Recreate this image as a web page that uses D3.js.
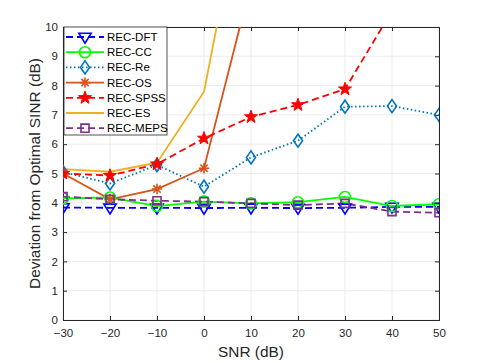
<!DOCTYPE html>
<html><head><meta charset="utf-8">
<script src="https://cdn.jsdelivr.net/npm/d3@7"></script>
<style>body{margin:0;background:#fff}svg{display:block}text{font-family:Helvetica,"Liberation Sans",Arial,sans-serif}</style>
</head><body><svg id="c" width="485" height="363"></svg>
<script>
const snr = [-30,-20,-10,0,10,20,30,40,50];
const xTicks = [-30,-20,-10,0,10,20,30,40,50];
const yTicks = [0,1,2,3,4,5,6,7,8,9,10];
const recDFT  = [3.84,3.83,3.83,3.82,3.83,3.82,3.83,3.86,3.86];
const recCC   = [4.15,4.18,3.89,4.04,3.98,4.02,4.2,3.89,3.95];
const recRe   = [5.05,4.66,5.29,4.55,5.55,6.12,7.28,7.3,7.0];
const recOS   = [5.0,4.12,4.47,5.18,11.5,14,17,20,23];
const recSPSS = [5.0,4.93,5.32,6.2,6.93,7.34,7.88,10.55,13.2];
const recES   = [5.15,5.06,5.37,7.79,16,20,24,28,32];
const recMEPS = [4.21,4.12,4.07,4.04,3.98,3.92,3.98,3.7,3.66];
const seriesNames = ["REC-DFT","REC-CC","REC-Re","REC-OS","REC-SPSS","REC-ES","REC-MEPS"];

const series = [
  {name:seriesNames[0], v:recDFT, color:"#0000FF", dash:"7,4", marker:"tri"},
  {name:seriesNames[1], v:recCC, color:"#00FF00", dash:null, marker:"circle"},
  {name:seriesNames[2], v:recRe, color:"#0072BD", dash:"1.5,2.5", marker:"diamond"},
  {name:seriesNames[3], v:recOS, color:"#D95319", dash:null, marker:"asterisk"},
  {name:seriesNames[4], v:recSPSS, color:"#FF0000", dash:"7,4", marker:"star"},
  {name:seriesNames[5], v:recES, color:"#EDB120", dash:null, marker:null},
  {name:seriesNames[6], v:recMEPS, color:"#7E2F8E", dash:"7,4", marker:"square"}
];

const L=63, R=439, T=27, B=320;
const svg = d3.select("#c");
const x = d3.scaleLinear().domain([-30,50]).range([L,R]);
const y = d3.scaleLinear().domain([0,10]).range([B,T]);

// grid
const g = svg.append("g");
g.selectAll(".gx").data(xTicks).enter().append("line")
 .attr("x1",d=>x(d)).attr("x2",d=>x(d)).attr("y1",T).attr("y2",B)
 .attr("stroke","#ebebeb").attr("stroke-width",1);
g.selectAll(".gy").data(yTicks).enter().append("line")
 .attr("y1",d=>y(d)).attr("y2",d=>y(d)).attr("x1",L).attr("x2",R)
 .attr("stroke","#ebebeb").attr("stroke-width",1);

// axes
const ax = svg.append("g").attr("transform",`translate(0,${B})`)
 .call(d3.axisBottom(x).tickValues(xTicks).tickSize(-4).tickPadding(9).tickFormat(d3.format("d")));
const ay = svg.append("g").attr("transform",`translate(${L},0)`)
 .call(d3.axisLeft(y).tickValues(yTicks).tickSize(-4).tickPadding(5).tickFormat(d3.format("d")));
const axTop = svg.append("g").attr("transform",`translate(0,${T})`)
 .call(d3.axisTop(x).tickValues(xTicks).tickSize(-4).tickFormat(""));
const ayR = svg.append("g").attr("transform",`translate(${R},0)`)
 .call(d3.axisRight(y).tickValues(yTicks).tickSize(-4).tickFormat(""));
[ax,ay,axTop,ayR].forEach(a=>{
  a.select(".domain").attr("stroke","#262626").attr("stroke-width",1);
  a.selectAll(".tick line").attr("stroke","#262626");
  a.selectAll("text").attr("fill","#262626").style("font-size","11.5px");
});

svg.append("defs").append("clipPath").attr("id","clip")
 .append("rect").attr("x",L).attr("y",T).attr("width",R-L).attr("height",B-T);

function markerPath(type, s){
  if(type==="tri"){const h=s*0.95;return `M${-h},${-h*0.6}L${h},${-h*0.6}L0,${h}Z`;}
  if(type==="diamond"){return `M0,${-s}L${s*0.7},0L0,${s}L${-s*0.7},0Z`;}
  if(type==="square"){const h=s*0.62;return `M${-h},${-h}H${h}V${h}H${-h}Z`;}
  if(type==="asterisk"){const h=s*0.8,d=h*0.707;return `M0,${-h}V${h}M${-h},0H${h}M${-d},${-d}L${d},${d}M${-d},${d}L${d},${-d}`;}
  if(type==="star"){let p="";for(let i=0;i<10;i++){const r=i%2?s*0.42:s*1.05;const a=-Math.PI/2+i*Math.PI/5;p+=(i?"L":"M")+(r*Math.cos(a)).toFixed(2)+","+(r*Math.sin(a)).toFixed(2);}return p+"Z";}
  return "";
}
function drawMarker(sel, type, color, cx, cy){
  if(!type) return;
  if(type==="circle"){
    sel.append("circle").attr("cx",cx).attr("cy",cy).attr("r",5.5)
      .attr("fill","none").attr("stroke",color).attr("stroke-width",1.6);
    return;
  }
  const s = 6.5;
  const p = sel.append("path").attr("d",markerPath(type,s)).attr("transform",`translate(${cx},${cy})`);
  if(type==="star") p.attr("fill",color).attr("stroke",color).attr("stroke-width",1);
  else p.attr("fill","none").attr("stroke",color).attr("stroke-width",1.6);
}

const plot = svg.append("g").attr("clip-path","url(#clip)");
const line = d3.line().x((d,i)=>x(snr[i])).y(d=>y(d));
series.forEach(s=>{
  plot.append("path").datum(s.v).attr("d",line).attr("fill","none")
   .attr("stroke",s.color).attr("stroke-width",1.8)
   .attr("stroke-dasharray",s.dash);
});
series.forEach(s=>{
  s.v.forEach((v,i)=>{ if(v<=10.3) drawMarker(plot, s.marker, s.color, x(snr[i]), y(v)); });
});

// legend
const lg = svg.append("g");
const lx=64, ly=27, lw=103, lh=108;
lg.append("rect").attr("x",lx).attr("y",ly).attr("width",lw).attr("height",lh)
 .attr("fill","#fff").attr("stroke","#262626").attr("stroke-width",0.8);
series.forEach((s,i)=>{
  const yy = ly+10+i*15.2;
  lg.append("line").attr("x1",lx+2).attr("x2",lx+40).attr("y1",yy).attr("y2",yy)
   .attr("stroke",s.color).attr("stroke-width",1.8).attr("stroke-dasharray",s.dash);
  drawMarker(lg, s.marker, s.color, lx+21, yy);
  lg.append("text").attr("x",lx+43).attr("y",yy).attr("dy","0.35em")
   .style("font-size","11.5px").attr("fill","#000").text(s.name);
});

// axis labels
svg.append("text").attr("x",(L+R)/2).attr("y",357).attr("text-anchor","middle")
 .style("font-size","15.4px").attr("fill","#262626").text("SNR (dB)");
svg.append("text").attr("transform",`translate(40,${(T+B)/2}) rotate(-90)`).attr("text-anchor","middle")
 .style("font-size","15.4px").attr("fill","#262626").text("Deviation from Optimal SINR (dB)");
</script></body></html>
